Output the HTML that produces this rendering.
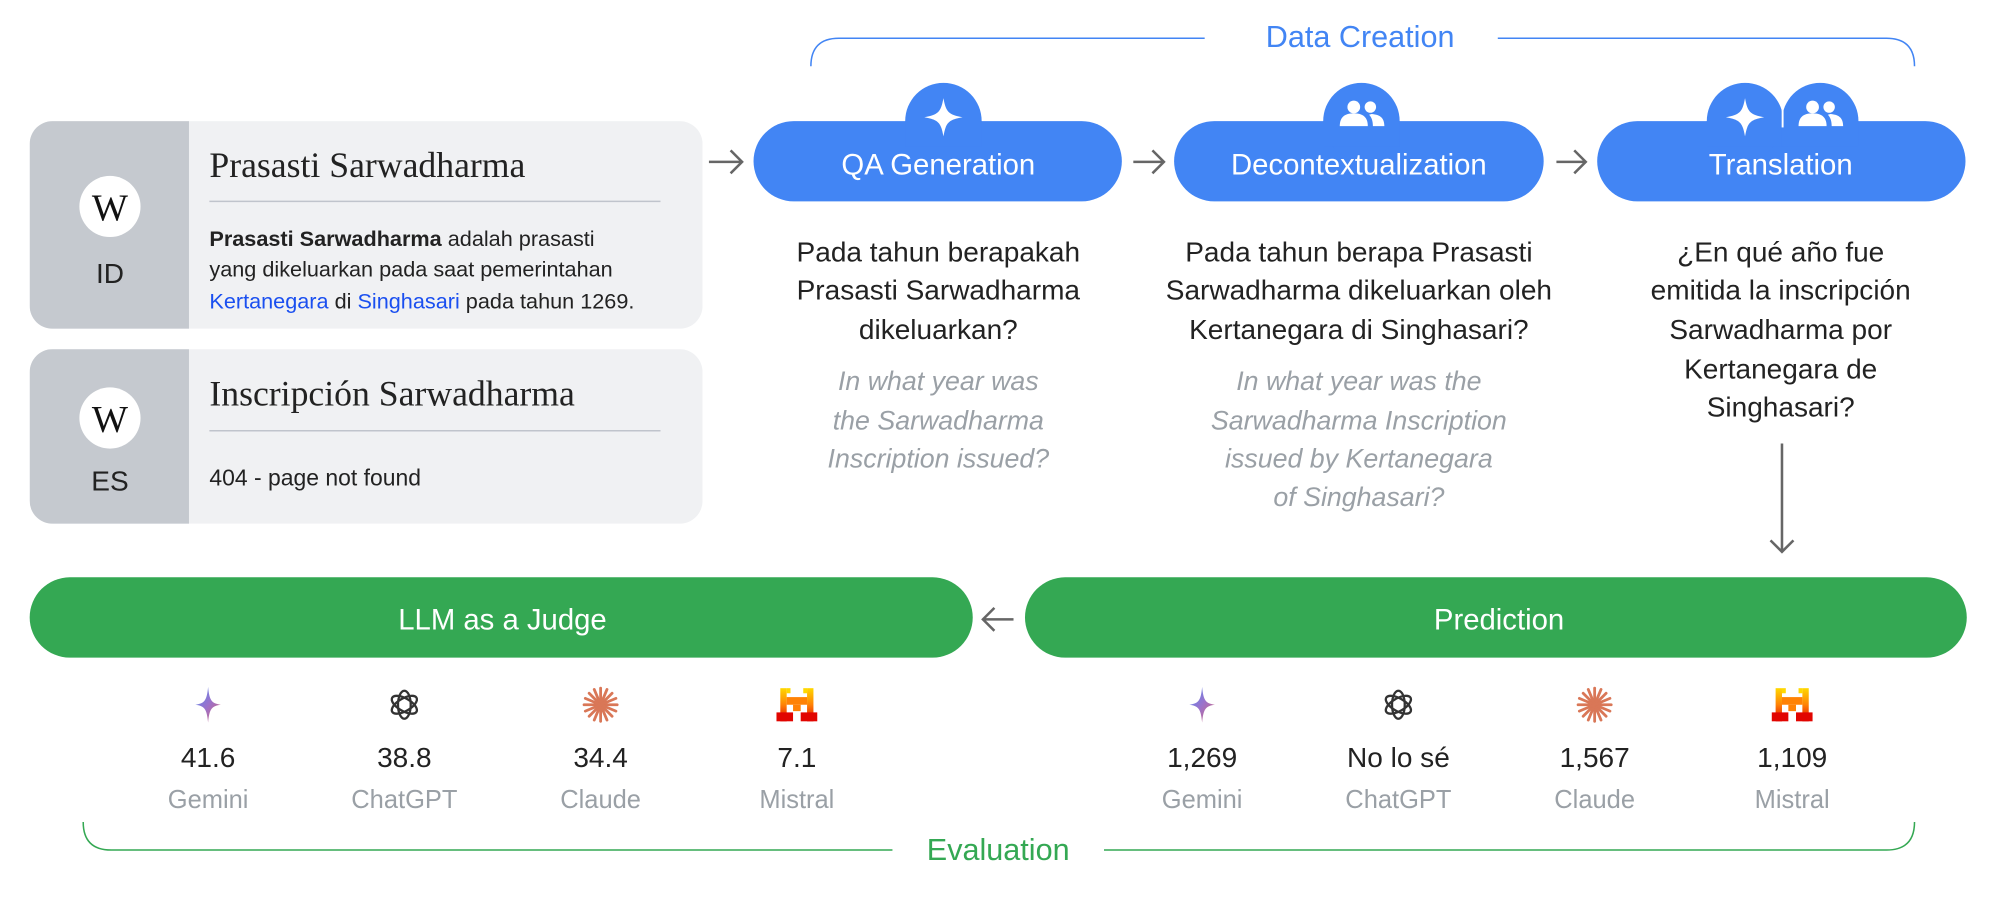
<!DOCTYPE html>
<html><head><meta charset="utf-8"><style>html,body{margin:0;padding:0;background:#fff}svg{display:block}</style></head>
<body>
<svg width="1999" height="901" viewBox="0 0 1568 707" xmlns="http://www.w3.org/2000/svg" font-family="'Liberation Sans', sans-serif">
<defs>
<clipPath id="c1"><rect x="23" y="95" width="528" height="163" rx="18"/></clipPath>
<clipPath id="c2"><rect x="23" y="274" width="528" height="137" rx="18"/></clipPath>
<linearGradient id="gem" x1="0" y1="0" x2="1" y2="1"><stop offset="0" stop-color="#4f8df5"/><stop offset="0.5" stop-color="#9b72cb"/><stop offset="1" stop-color="#d96570"/></linearGradient>
<linearGradient id="mis" x1="0" y1="0" x2="0" y2="1"><stop offset="0" stop-color="#ffd800"/><stop offset="0.5" stop-color="#ff8205"/><stop offset="1" stop-color="#e10500"/></linearGradient>
<g id="spark"><path d="M0,-15 C2,-4 4,-2 15,0 C4,2 2,4 0,15 C-2,4 -4,2 -15,0 C-4,-2 -2,-4 0,-15Z"/></g>
<g id="users"><circle cx="-6" cy="-6" r="5"/><circle cx="7" cy="-6" r="4.5"/><path d="M-17,9 C-17,1 -12,-1 -6,-1 C0,-1 5,1 5,9Z"/><path d="M8,-0.5 C14,0 18,2 18,9 L9,9 C9,5 8,2 6,0Z"/></g>
<g id="gemi"><path d="M0,-14 C1,-3 3,-1 10,0 C3,1 1,3 0,14 C-1,3 -3,1 -10,0 C-3,-1 -1,-3 0,-14Z" fill="url(#gem)"/></g>
<g id="gpt" fill="none" stroke="#333" stroke-width="1.8"><ellipse rx="5" ry="11" transform="rotate(0)"/><ellipse rx="5" ry="11" transform="rotate(60)"/><ellipse rx="5" ry="11" transform="rotate(120)"/></g>
<g id="cla" stroke="#d97757" stroke-width="2.2" stroke-linecap="round"><line x1="0" y1="-13" x2="0" y2="13"/><line x1="-13" y1="0" x2="13" y2="0"/><line x1="-9" y1="-9" x2="9" y2="9"/><line x1="-9" y1="9" x2="9" y2="-9"/><line x1="-5" y1="-12" x2="5" y2="12"/><line x1="-12" y1="-5" x2="12" y2="5"/><line x1="5" y1="-12" x2="-5" y2="12"/><line x1="12" y1="-5" x2="-12" y2="5"/></g>
<g id="mist"><rect x="-13" y="-13" width="5" height="26" fill="url(#mis)"/><rect x="8" y="-13" width="5" height="26" fill="url(#mis)"/><rect x="-8" y="-6" width="16" height="6" fill="#ff8205"/><rect x="-3" y="0" width="6" height="5" fill="#ff8205"/><rect x="-16" y="6" width="13" height="7" fill="#e10500"/><rect x="3" y="6" width="13" height="7" fill="#e10500"/><rect x="-8" y="-13" width="3" height="4" fill="#ffd800"/><rect x="5" y="-13" width="3" height="4" fill="#ffd800"/></g>
<g id="bump"><circle cx="0" cy="0" r="30"/><rect x="-30" y="0" width="60" height="20"/></g>
</defs>

<path d="M636,52 Q636,30 658,30 L945,30 M1175,30 L1480,30 Q1502,30 1502,52" fill="none" stroke="#4285f4" stroke-width="1.2"/>
<text x="1067" y="37" font-size="24" fill="#4285f4" text-anchor="middle">Data Creation</text>

<g clip-path="url(#c1)"><rect x="23" y="95" width="528" height="163" fill="#f0f1f3"/><rect x="23" y="95" width="125" height="163" fill="#c5c9cf"/></g>
<circle cx="86" cy="162" r="24" fill="#fff"/>
<text x="86" y="173" font-size="30" font-family="'Liberation Serif', serif" text-anchor="middle" fill="#111">W</text>
<text x="86" y="222" font-size="22" text-anchor="middle" fill="#222">ID</text>
<text x="164" y="139" font-size="28" font-family="'Liberation Serif', serif" fill="#222">Prasasti Sarwadharma</text>
<line x1="164" y1="158" x2="518" y2="158" stroke="#c0c4cc" stroke-width="1.2"/>
<text font-size="17" fill="#222"><tspan x="164" y="193"><tspan font-weight="bold">Prasasti Sarwadharma</tspan> adalah prasasti</tspan><tspan x="164" y="217">yang dikeluarkan pada saat pemerintahan</tspan><tspan x="164" y="242"><tspan fill="#1a4ff0">Kertanegara</tspan> di <tspan fill="#1a4ff0">Singhasari</tspan> pada tahun 1269.</tspan></text>

<g clip-path="url(#c2)"><rect x="23" y="274" width="528" height="137" fill="#f0f1f3"/><rect x="23" y="274" width="125" height="137" fill="#c5c9cf"/></g>
<circle cx="86" cy="328" r="24" fill="#fff"/>
<text x="86" y="339" font-size="30" font-family="'Liberation Serif', serif" text-anchor="middle" fill="#111">W</text>
<text x="86" y="385" font-size="22" text-anchor="middle" fill="#222">ES</text>
<text x="164" y="318" font-size="28" font-family="'Liberation Serif', serif" fill="#222">Inscripción Sarwadharma</text>
<line x1="164" y1="338" x2="518" y2="338" stroke="#c0c4cc" stroke-width="1.2"/>
<text x="164" y="381" font-size="18" fill="#222">404 - page not found</text>

<g stroke="#666" stroke-width="2" fill="none">
<path d="M556,127 H582 M573,118 L582,127 L573,136"/>
<path d="M889,127 H913 M904,118 L913,127 L904,136"/>
<path d="M1221,127 H1244 M1235,118 L1244,127 L1235,136"/>
<path d="M1398,348 V433 M1389,424 L1398,433 L1407,424"/>
<path d="M795,486 H771 M780,477 L771,486 L780,495"/>
</g>

<g fill="#4285f4">
<rect x="591" y="95" width="289" height="63" rx="31.5"/>
<use href="#bump" transform="translate(740,95)"/>
<rect x="921" y="95" width="290" height="63" rx="31.5"/>
<use href="#bump" transform="translate(1068,95)"/>
<rect x="1253" y="95" width="289" height="63" rx="31.5"/>
<use href="#bump" transform="translate(1369,95)"/>
<use href="#bump" transform="translate(1428,95)"/>
</g>
<line x1="1398.5" y1="70" x2="1398.5" y2="100" stroke="#fff" stroke-width="1.5"/>
<g fill="#fff">
<use href="#spark" transform="translate(740,92)"/>
<use href="#users" transform="translate(1068,90)"/>
<use href="#spark" transform="translate(1369,92)"/>
<use href="#users" transform="translate(1428,90)"/>
</g>
<g font-size="23" fill="#fff" text-anchor="middle">
<text x="736" y="137">QA Generation</text>
<text x="1066" y="137">Decontextualization</text>
<text x="1397" y="137">Translation</text>
</g>

<g font-size="22" fill="#222" text-anchor="middle">
<text x="736" y="205">Pada tahun berapakah</text>
<text x="736" y="235">Prasasti Sarwadharma</text>
<text x="736" y="266">dikeluarkan?</text>
<text x="1066" y="205">Pada tahun berapa Prasasti</text>
<text x="1066" y="235">Sarwadharma dikeluarkan oleh</text>
<text x="1066" y="266">Kertanegara di Singhasari?</text>
<text x="1397" y="205">¿En qué año fue</text>
<text x="1397" y="235">emitida la inscripción</text>
<text x="1397" y="266">Sarwadharma por</text>
<text x="1397" y="297">Kertanegara de</text>
<text x="1397" y="327">Singhasari?</text>
</g>
<g font-size="21" fill="#9aa0a6" font-style="italic" text-anchor="middle">
<text x="736" y="306">In what year was</text>
<text x="736" y="337">the Sarwadharma</text>
<text x="736" y="367">Inscription issued?</text>
<text x="1066" y="306">In what year was the</text>
<text x="1066" y="337">Sarwadharma Inscription</text>
<text x="1066" y="367">issued by Kertanegara</text>
<text x="1066" y="397">of Singhasari?</text>
</g>

<rect x="23" y="453" width="740" height="63" rx="31.5" fill="#34a853"/>
<rect x="804" y="453" width="739" height="63" rx="31.5" fill="#34a853"/>
<text x="394" y="494" font-size="23" fill="#fff" text-anchor="middle">LLM as a Judge</text>
<text x="1176" y="494" font-size="23" fill="#fff" text-anchor="middle">Prediction</text>

<use href="#gemi" transform="translate(163,553)"/>
<use href="#gpt" transform="translate(317,553)"/>
<use href="#cla" transform="translate(471,553)"/>
<use href="#mist" transform="translate(625,553)"/>
<use href="#gemi" transform="translate(943,553)"/>
<use href="#gpt" transform="translate(1097,553)"/>
<use href="#cla" transform="translate(1251,553)"/>
<use href="#mist" transform="translate(1406,553)"/>

<g font-size="22" fill="#222" text-anchor="middle">
<text x="163" y="602">41.6</text><text x="317" y="602">38.8</text><text x="471" y="602">34.4</text><text x="625" y="602">7.1</text>
<text x="943" y="602">1,269</text><text x="1097" y="602">No lo sé</text><text x="1251" y="602">1,567</text><text x="1406" y="602">1,109</text>
</g>
<g font-size="20" fill="#9aa0a6" text-anchor="middle">
<text x="163" y="634">Gemini</text><text x="317" y="634">ChatGPT</text><text x="471" y="634">Claude</text><text x="625" y="634">Mistral</text>
<text x="943" y="634">Gemini</text><text x="1097" y="634">ChatGPT</text><text x="1251" y="634">Claude</text><text x="1406" y="634">Mistral</text>
</g>

<path d="M65,645 Q65,667 87,667 L700,667 M866,667 L1480,667 Q1502,667 1502,645" fill="none" stroke="#34a853" stroke-width="1.2"/>
<text x="783" y="675" font-size="24" fill="#34a853" text-anchor="middle">Evaluation</text>
</svg>
</body></html>
